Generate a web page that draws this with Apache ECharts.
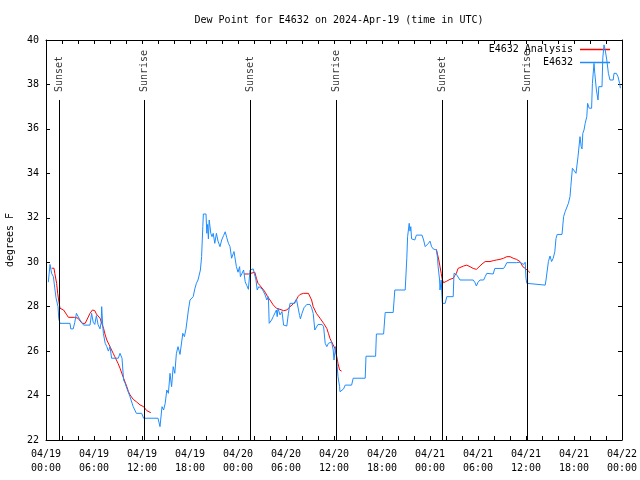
<!DOCTYPE html>
<html>
<head>
<meta charset="utf-8">
<script src="https://cdn.jsdelivr.net/npm/echarts@6/dist/echarts.min.js"></script>
<style>html,body{margin:0;padding:0;background:#fff}#c{width:640px;height:480px}</style>
</head>
<body>
<div id="c"></div>
<script>
// hours since 2024-04-19 00:00 UTC
const xTickLabels = ['04/19\n00:00','04/19\n06:00','04/19\n12:00','04/19\n18:00','04/20\n00:00','04/20\n06:00','04/20\n12:00','04/20\n18:00','04/21\n00:00','04/21\n06:00','04/21\n12:00','04/21\n18:00','04/22\n00:00'];
const sunsetTimes = [1.7, 25.57, 49.54];
const sunriseTimes = [12.25, 36.33, 60.17];

const analysisSeg1 = [[0.71,29.73],[1.0,29.73],[1.1,29.5],[1.33,29.05],[1.46,28.6],[1.58,28.3],[1.75,27.93],[2.2,27.85],[2.6,27.63],[2.8,27.52],[3.6,27.52],[3.8,27.55],[4.0,27.48],[4.25,27.4],[4.5,27.25],[4.7,27.2],[4.9,27.25],[5.1,27.4],[5.5,27.7],[5.8,27.85],[6.1,27.82],[6.3,27.67],[6.75,27.48],[6.96,27.4],[7.2,27.02],[7.4,26.73],[7.6,26.5],[7.8,26.42],[8.0,26.2],[8.2,26.05],[8.4,25.9],[8.6,25.75],[8.8,25.6],[9.0,25.45],[9.25,25.23],[9.7,24.78],[10.1,24.4],[10.3,24.18],[10.5,24.03],[10.9,23.83],[11.3,23.72],[11.75,23.58],[12.2,23.5],[12.6,23.32],[12.8,23.25],[13.1,23.23]];
const analysisSeg2 = [[24.75,29.47],[25.3,29.47],[25.5,29.5],[26.1,29.55],[26.3,29.28],[26.5,29.05],[26.75,28.95],[27.2,28.75],[27.4,28.65],[27.7,28.45],[28.0,28.3],[28.4,28.08],[28.8,27.93],[29.25,27.88],[29.7,27.82],[30.1,27.85],[30.5,28.0],[30.9,28.12],[31.3,28.3],[31.5,28.45],[31.75,28.55],[32.2,28.6],[32.8,28.6],[33.0,28.52],[33.2,28.3],[33.4,28.0],[33.8,27.7],[34.25,27.48],[34.7,27.25],[34.9,27.18],[35.1,27.02],[35.3,26.8],[35.5,26.57],[35.7,26.42],[35.9,26.42],[36.1,26.13],[36.3,25.83],[36.5,25.45],[36.7,25.15],[36.95,25.1]];
const analysisSeg3 = [[48.8,30.58],[49.0,30.55],[49.1,30.1],[49.25,29.8],[49.4,29.5],[49.55,29.2],[49.7,29.08],[49.9,29.08],[50.1,29.15],[50.5,29.23],[50.9,29.28],[51.1,29.4],[51.3,29.5],[51.5,29.72],[51.75,29.8],[52.2,29.83],[52.6,29.87],[53.0,29.8],[53.4,29.72],[53.8,29.68],[54.0,29.72],[54.5,29.92],[54.9,30.03],[55.5,30.03],[55.9,30.07],[56.3,30.1],[56.75,30.13],[57.2,30.18],[57.6,30.25],[58.0,30.25],[58.4,30.18],[58.8,30.13],[59.25,30.03],[59.6,29.8],[59.9,29.72],[60.1,29.65],[60.3,29.6],[60.5,29.53]];

const stationObs = [[0.29,29.1],[0.5,29.9],[0.7,29.5],[0.92,29.35],[1.25,28.4],[1.5,28.0],[1.6,27.45],[1.75,27.25],[3.0,27.25],[3.1,27.0],[3.4,27.0],[3.6,27.3],[3.8,27.7],[4.25,27.4],[4.7,27.17],[5.5,27.17],[5.7,27.7],[5.9,27.3],[6.1,27.2],[6.3,27.6],[6.5,27.2],[6.75,27.0],[6.9,27.3],[6.96,28.0],[7.1,27.1],[7.17,26.8],[7.4,26.35],[7.6,26.2],[7.8,26.0],[8.0,26.2],[8.2,25.68],[9.04,25.68],[9.25,25.9],[9.5,25.68],[9.7,24.7],[9.9,24.55],[10.1,24.33],[10.5,23.95],[10.9,23.5],[11.3,23.2],[11.96,23.2],[12.2,22.98],[14.0,22.98],[14.25,22.6],[14.5,23.5],[14.7,23.35],[14.9,23.65],[15.1,24.25],[15.3,24.1],[15.5,25.0],[15.7,24.4],[15.9,25.3],[16.1,25.0],[16.3,25.9],[16.5,26.2],[16.75,25.85],[17.1,26.8],[17.3,26.65],[17.5,27.0],[17.8,27.85],[18.0,28.3],[18.4,28.45],[18.6,28.8],[18.8,29.05],[19.0,29.2],[19.3,29.65],[19.45,30.25],[19.6,31.6],[19.67,32.17],[20.0,32.17],[20.1,31.3],[20.2,31.7],[20.3,31.05],[20.4,31.9],[20.6,31.3],[20.75,31.15],[20.9,31.3],[21.1,30.85],[21.3,31.3],[21.5,30.95],[21.75,30.7],[21.96,31.0],[22.2,31.2],[22.4,31.37],[22.6,31.1],[22.8,30.85],[23.0,30.7],[23.2,30.18],[23.4,30.25],[23.5,30.48],[23.6,30.25],[23.8,29.8],[24.0,29.55],[24.2,29.8],[24.3,29.35],[24.7,29.65],[24.9,29.12],[25.1,28.95],[25.3,28.78],[25.5,29.65],[25.7,29.72],[25.9,29.7],[26.1,29.65],[26.25,29.2],[26.4,28.75],[26.6,28.9],[26.75,28.95],[27.0,28.8],[27.2,28.67],[27.4,28.52],[27.6,28.3],[27.8,28.45],[27.9,27.25],[28.2,27.4],[28.4,27.55],[28.6,27.63],[28.8,27.85],[28.9,27.55],[29.0,27.93],[29.25,27.63],[29.5,27.78],[29.7,27.17],[30.1,27.13],[30.3,27.7],[30.5,28.15],[31.1,28.15],[31.3,28.35],[31.5,28.35],[31.7,27.6],[31.8,27.45],[32.0,27.7],[32.25,27.95],[32.6,28.1],[33.0,28.1],[33.2,27.95],[33.4,27.7],[33.6,26.95],[33.8,26.95],[34.0,27.2],[34.25,27.25],[34.5,27.2],[34.7,27.1],[34.9,26.35],[35.1,26.2],[35.3,26.35],[35.5,26.42],[35.7,26.42],[35.9,26.05],[36.0,25.6],[36.2,26.2],[36.3,25.8],[36.4,25.3],[36.5,24.85],[36.7,24.4],[36.75,24.17],[37.0,24.2],[37.2,24.3],[37.4,24.47],[38.2,24.47],[38.4,24.78],[39.9,24.78],[40.0,25.77],[41.2,25.77],[41.3,26.77],[42.2,26.77],[42.4,27.74],[43.4,27.74],[43.6,28.75],[44.9,28.75],[45.1,30.18],[45.2,31.15],[45.4,31.75],[45.5,31.4],[45.6,31.6],[45.7,31.05],[45.9,31.0],[46.1,31.0],[46.3,31.22],[47.0,31.22],[47.2,31.0],[47.4,30.7],[47.6,30.7],[47.8,30.85],[48.0,30.95],[48.2,30.7],[48.4,30.6],[48.6,30.55],[48.8,30.55],[48.95,30.18],[49.0,29.85],[49.2,29.2],[49.25,28.75],[49.4,29.2],[49.5,29.15],[49.55,28.15],[49.9,28.15],[50.1,28.45],[50.3,28.5],[50.5,28.45],[50.9,28.45],[51.0,29.5],[51.3,29.45],[51.75,29.2],[52.6,29.2],[53.4,29.2],[53.6,29.1],[53.8,28.93],[54.0,29.1],[54.25,29.2],[54.7,29.2],[54.9,29.35],[55.1,29.5],[55.9,29.47],[56.1,29.72],[57.2,29.72],[57.4,29.83],[57.6,29.98],[58.8,29.98],[59.25,30.0],[59.7,29.9],[59.9,30.0],[60.0,29.28],[60.1,29.05],[60.3,28.97],[62.4,28.97],[62.5,29.2],[62.8,30.03],[63.0,30.28],[63.2,30.03],[63.4,30.18],[63.6,30.47],[63.75,31.07],[63.9,31.25],[64.5,31.25],[64.7,32.05],[64.9,32.28],[65.1,32.35],[65.3,32.65],[65.5,32.95],[65.6,33.4],[65.8,34.23],[66.0,34.3],[66.25,34.0],[66.4,34.0],[66.5,34.75],[66.75,35.65],[66.9,35.2],[67.0,35.1],[67.1,35.8],[67.25,35.95],[67.4,36.25],[67.6,36.55],[67.7,37.15],[67.9,36.93],[68.2,36.93],[68.3,38.05],[68.5,38.95],[68.6,38.5],[68.8,37.75],[69.0,37.3],[69.1,37.9],[69.3,37.85],[69.5,37.9],[69.6,39.2],[69.75,39.78],[69.9,39.55],[70.0,39.6],[70.1,39.1],[70.3,38.5],[70.5,38.2],[70.9,38.2],[71.0,38.5],[71.3,38.5],[71.5,38.35],[71.7,38.05],[71.8,37.83]];

const FONT = 'DejaVu Sans Mono';
const RED = '#ff0000';
const BLUE = '#1e8cff';
const lineTopValue = 37.3;
const labelBaseValue = 37.66;

const sunMarks = [];
sunsetTimes.forEach(t => sunMarks.push({t: t, name: 'Sunset'}));
sunriseTimes.forEach(t => sunMarks.push({t: t, name: 'Sunrise'}));

const chart = echarts.init(document.getElementById('c'), null, {renderer: 'canvas'});
const axisCommon = {
  axisLine: {show: true, onZero: false, lineStyle: {color: '#000', width: 1}},
  splitLine: {show: false}
};
const redStyle = {type: 'line', name: 'E4632 Analysis', showSymbol: false, symbol: 'none', xAxisIndex: 0, yAxisIndex: 0,
  lineStyle: {color: RED, width: 1}, itemStyle: {color: RED}, z: 3, silent: true};

const option = {
  animation: false,
  title: {text: 'Dew Point for E4632 on 2024-Apr-19 (time in UTC)', left: 334, textAlign: 'center', top: 10,
    textStyle: {fontFamily: FONT, fontSize: 10, fontWeight: 'normal', color: '#000'}},
  grid: {left: 46, right: 18, top: 40, bottom: 40, containLabel: false, outerBoundsMode: 'none'},
  legend: {
    data: [
      {name: 'E4632 Analysis', itemStyle: {color: RED, borderWidth: 0, opacity: 1}, lineStyle: {color: RED, width: 1.5, opacity: 1}},
      {name: 'E4632', itemStyle: {color: BLUE, borderWidth: 0, opacity: 1}, lineStyle: {color: BLUE, width: 1.5, opacity: 1}}
    ],
    icon: 'rect',
    orient: 'vertical', right: 30, top: 43, align: 'right', padding: 0,
    itemWidth: 30, itemHeight: 1.5, itemGap: 0, selectedMode: false,
    textStyle: {fontFamily: FONT, fontSize: 10, color: '#000', lineHeight: 13, padding: [0, 2, 0, 0]}
  },
  xAxis: [
    Object.assign({type: 'value', min: 0, max: 72, interval: 6, position: 'bottom',
      axisTick: {show: true, inside: true, length: 4, lineStyle: {color: '#000'}},
      minorTick: {show: true, splitNumber: 3, length: 4, lineStyle: {color: '#000'}},
      axisLabel: {fontFamily: FONT, fontSize: 10, color: '#000', margin: 7, lineHeight: 14,
        formatter: v => xTickLabels[Math.round(v / 6)] || ''}}, axisCommon),
    Object.assign({type: 'value', min: 0, max: 72, interval: 6, position: 'top',
      axisTick: {show: true, inside: true, length: 4, lineStyle: {color: '#000'}},
      minorTick: {show: true, splitNumber: 3, length: 4, lineStyle: {color: '#000'}},
      axisLabel: {show: false}}, axisCommon)
  ],
  yAxis: [
    Object.assign({type: 'value', min: 22, max: 40, interval: 2, position: 'left',
      name: 'degrees F', nameLocation: 'middle', nameRotate: 90, nameGap: 31,
      nameTextStyle: {fontFamily: FONT, fontSize: 10, color: '#000'},
      axisTick: {show: true, inside: true, length: 4, lineStyle: {color: '#000'}},
      axisLabel: {fontFamily: FONT, fontSize: 10, color: '#000', margin: 7}}, axisCommon),
    Object.assign({type: 'value', min: 22, max: 40, interval: 2, position: 'right',
      axisTick: {show: true, inside: true, length: 4, lineStyle: {color: '#000'}},
      axisLabel: {show: false}}, axisCommon)
  ],
  series: [
    {type: 'line', name: 'sunlines', data: [], xAxisIndex: 0, yAxisIndex: 0, silent: true,
      markLine: {silent: true, symbol: ['none', 'none'], animation: false, label: {show: false},
        lineStyle: {color: '#000', width: 1, type: 'solid'},
        data: sunMarks.map(m => [{coord: [m.t, 22]}, {coord: [m.t, lineTopValue]}])}},
    {type: 'scatter', name: 'sunlabels', symbolSize: 0, silent: true, xAxisIndex: 0, yAxisIndex: 0,
      data: sunMarks.map(m => ({value: [m.t, labelBaseValue], name: m.name})),
      label: {show: true, position: 'inside', rotate: 90, align: 'left', verticalAlign: 'middle',
        formatter: p => p.name, fontFamily: FONT, fontSize: 10, color: '#000'}},
    Object.assign({data: analysisSeg1}, redStyle),
    Object.assign({data: analysisSeg2}, redStyle),
    Object.assign({data: analysisSeg3}, redStyle),
    {type: 'line', name: 'E4632', data: stationObs, showSymbol: false, symbol: 'none', silent: true,
      lineStyle: {color: BLUE, width: 1}, itemStyle: {color: BLUE}, z: 4}
  ]
};
chart.setOption(option);
</script>
</body>
</html>
